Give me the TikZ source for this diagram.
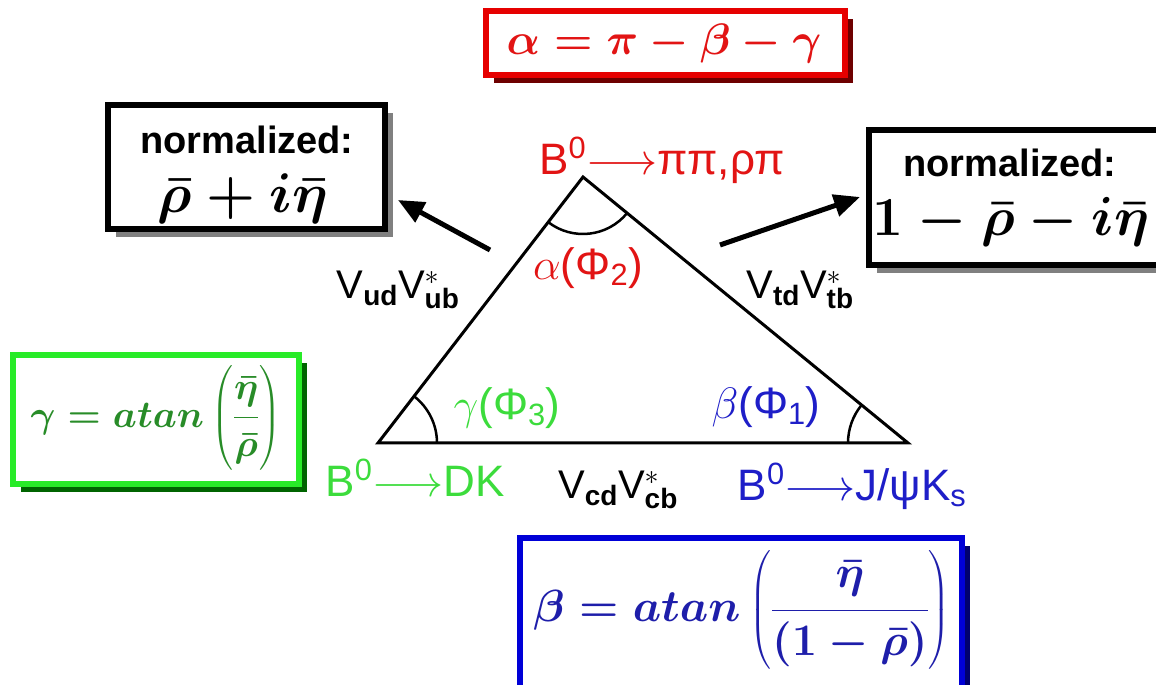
\RequirePackage{fix-cm}
\documentclass[tikz,border=0pt]{standalone}
\usepackage{amsmath}
\usepackage{fontspec}
\newfontfamily\labfont{Liberation Sans}
\usetikzlibrary{arrows.meta,angles,shadows}
\definecolor{myred}{RGB}{226,20,20}
\definecolor{boxred}{RGB}{230,0,0}
\definecolor{shred}{RGB}{110,0,0}
\definecolor{mygreen}{RGB}{60,220,60}
\definecolor{boxgreen}{RGB}{40,235,40}
\definecolor{shgreen}{RGB}{0,100,0}
\definecolor{txtgreen}{RGB}{40,140,40}
\definecolor{myblue}{RGB}{30,30,200}
\definecolor{boxblue}{RGB}{0,0,215}
\definecolor{shblue}{RGB}{0,0,110}
\definecolor{txtblue}{RGB}{30,30,170}
\begin{document}
\begin{tikzpicture}[x=1pt,y=1pt,
  frame/.style={draw=#1, fill=white, line width=6pt, inner sep=0pt},
  shad/.style={drop shadow={shadow xshift=8pt,shadow yshift=-8pt,fill=#1,opacity=1}},
  lab/.style={inner sep=0pt, font={\labfont\fontsize{44}{50}\selectfont}},
  smalllab/.style={inner sep=0pt, font={\labfont\fontsize{40}{46}\selectfont}},
  mathtxt/.style={inner sep=0pt, font={\fontsize{#1}{#1}\selectfont\boldmath}},
  normtxt/.style={inner sep=0pt, font={\labfont\bfseries\fontsize{38}{44}\selectfont}},
  side/.style={line width=3pt, line join=miter},
  arc/.style={draw, line width=2.5pt, angle radius=#1},
  bigarrow/.style={line width=5pt, -{Triangle[length=26pt,width=22pt]}}
]
\clip (0,0) rectangle (1156,685);
\fill[white] (0,0) rectangle (1156,685);

% ---- boxes
\node[frame=boxred, shad=shred, minimum width=359pt, minimum height=64pt] (redbox) at (665.5,642) {};
\node[mathtxt=44, text=myred] (redtxt) at (664,641) {$\alpha=\pi-\beta-\gamma$};

\node[frame=black, shad=gray, minimum width=277pt, minimum height=124pt] (lbox) at (246.5,518) {};
\node[normtxt] (lnorm) at (247,545) {normalized:};
\node[mathtxt=56] (lform) at (243,486) {$\bar\rho+i\bar\eta$};

\node[frame=black, shad=gray, minimum width=330pt, minimum height=135pt] (rbox) at (1034,487.5) {};
\node[normtxt] (rnorm) at (1010,522) {normalized:};
\node[mathtxt=55] (rform) at (1011,463) {$1-\bar\rho-i\bar\eta$};

\node[frame=boxgreen, shad=shgreen, minimum width=286pt, minimum height=129pt] (gbox) at (156,265.5) {};
\node[mathtxt=38, text=txtgreen] (gform) at (156,267) {$\gamma=atan\left(\dfrac{\bar\eta\vphantom{(}}{\bar\rho\vphantom{(}}\right)$};

\node[frame=boxblue, shad=shblue, minimum width=442pt, minimum height=170pt] (bbox) at (741,62) {};
\node[mathtxt=45, text=txtblue] (bform) at (742,75) {$\beta=atan\left(\dfrac{\bar\eta}{(1-\bar\rho)}\right)$};

% ---- triangle
\coordinate (A) at (583,508);
\coordinate (L) at (378,242);
\coordinate (R) at (908,242);
\draw[side] (L) -- (A) -- (R) -- cycle;
\pic[arc=57pt] {angle=L--A--R};
\pic[arc=59pt] {angle=R--L--A};
\pic[arc=60pt] {angle=A--R--L};

% ---- labels
\node[lab, text=myred] (topl) at (662,525) {B\textsuperscript{0}$\longrightarrow$ππ,ρπ};
\node[lab, text=myred] (alab) at (588,417) {$\alpha$(Φ\textsubscript{2})};
\node[lab, text=mygreen] (glab) at (507,277) {$\gamma$(Φ\textsubscript{3})};
\node[lab, text=myblue] (blab) at (766,278) {$\beta$(Φ\textsubscript{1})};
\node[lab, text=mygreen] (dk) at (415,207) {B\textsuperscript{0}$\longrightarrow$DK};
\node[lab, text=myblue] (jpsi) at (852,199) {B\textsuperscript{0}$\longrightarrow$J/ψK\textsubscript{s}};
\node[smalllab] (vub) at (398,395) {V\textsubscript{\bfseries ud}V$^{*}_{\text{\bfseries ub}}$};
\node[smalllab] (vtb) at (800,395) {V\textsubscript{\bfseries td}V$^{*}_{\text{\bfseries tb}}$};
\node[smalllab] (vcb) at (618,195) {V\textsubscript{\bfseries cd}V$^{*}_{\text{\bfseries cb}}$};

% ---- arrows
\coordinate (la1) at (490,435);
\coordinate (la2) at (398,485);
\coordinate (ra1) at (720,440);
\coordinate (ra2) at (860,488);
\draw[bigarrow] (la1) -- (la2);
\draw[bigarrow] (ra1) -- (ra2);
\end{tikzpicture}
\end{document}
